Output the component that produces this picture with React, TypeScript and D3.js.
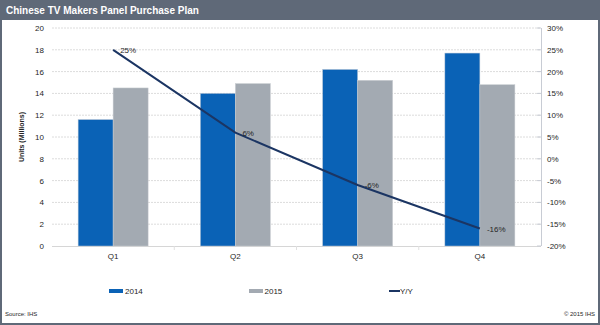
import React from "react";
import * as d3 from "d3";

const categories = ["Q1", "Q2", "Q3", "Q4"];
const units2014 = [11.6, 14.0, 16.2, 17.7];
const units2015 = [14.5, 14.9, 15.2, 14.8];
const yoy = [25, 6, -6, -16];
const leftTicks = [0, 2, 4, 6, 8, 10, 12, 14, 16, 18, 20];
const rightTicks = [-20, -15, -10, -5, 0, 5, 10, 15, 20, 25, 30];

const W = 600, H = 325;
const FONT = "Arial, 'Liberation Sans', sans-serif";
const C2014 = "#0a62b6";
const C2015 = "#a3aab2";
const CLINE = "#1b3563";
const TXT = "#262626";

export default function App() {
  const left = 52, right = 541, top = 28, bottom = 246;
  const x = d3.scaleBand().domain(categories).range([left, right]);
  const yL = d3.scaleLinear().domain([0, 20]).range([bottom, top]);
  const yR = d3.scaleLinear().domain([-20, 30]).range([bottom, top]);
  const barW = 35;
  const line = d3.line<number>()
    .x((_, i) => (x(categories[i]) as number) + x.bandwidth() / 2)
    .y((d) => yR(d));

  return (
    <div style={{ position: "fixed", left: 0, top: 0, width: W, height: H }}>
      <svg width={W} height={H} style={{ display: "block", fontFamily: FONT }}>
        <rect x={0} y={0} width={W} height={H} fill="#ffffff" />
        <rect x={1} y={1} width={W - 2} height={H - 2} fill="none" stroke="#5f6978" strokeWidth={2} />
        <rect x={0} y={0} width={W} height={20} fill="#5f6978" />
        <text x={6} y={14} fill="#ffffff" fontSize={10} fontWeight="bold">
          Chinese TV Makers Panel Purchase Plan
        </text>

        {leftTicks.map((t) => (
          <g key={"g" + t}>
            {t > 0 && (
              <line x1={left} x2={right} y1={yL(t)} y2={yL(t)} stroke="#dcdcdc" strokeWidth={1} strokeDasharray="2,1" />
            )}
            <text x={44} y={yL(t) + 3} textAnchor="end" fontSize={8} fill={TXT}>{t}</text>
          </g>
        ))}
        <line x1={left} x2={right} y1={bottom + 0.5} y2={bottom + 0.5} stroke="#d6d6d6" />

        {categories.map((c, i) => {
          const cx = (x(c) as number) + x.bandwidth() / 2;
          return (
            <g key={c}>
              <rect x={cx - barW} y={yL(units2014[i])} width={barW} height={bottom - yL(units2014[i])} fill={C2014} stroke="#b9c6d6" strokeWidth={0.5} />
              <rect x={cx} y={yL(units2015[i])} width={barW} height={bottom - yL(units2015[i])} fill={C2015} stroke="#c9cdd2" strokeWidth={0.5} />
              <text x={cx} y={259} textAnchor="middle" fontSize={8} fill={TXT}>{c}</text>
            </g>
          );
        })}
        {categories.slice(1).map((c) => (
          <line key={"t" + c} x1={x(c) as number} x2={x(c) as number} y1={bottom} y2={bottom + 4} stroke="#e0e0e0" />
        ))}

        <line x1={right + 0.5} x2={right + 0.5} y1={top} y2={bottom} stroke="#c8ccd4" strokeWidth={1} />
        {rightTicks.map((t) => (
          <g key={"r" + t}>
            <line x1={right} x2={right - 4} y1={yR(t)} y2={yR(t)} stroke="#c8ccd4" />
            <text x={547} y={yR(t) + 3} fontSize={8} fill={TXT}>{t + "%"}</text>
          </g>
        ))}

        <path d={line(yoy) || ""} fill="none" stroke={CLINE} strokeWidth={2} />
        {yoy.map((v, i) => (
          <text key={"l" + i} x={(x(categories[i]) as number) + x.bandwidth() / 2 + 7} y={yR(v) + 3} fontSize={8} fill={TXT}>
            {v + "%"}
          </text>
        ))}

        <text x={0} y={0} transform={`translate(23.5,${(top + bottom) / 2}) rotate(-90)`} textAnchor="middle" fontSize={7} fontWeight="bold" fill={TXT}>
          Units (Millions)
        </text>

        <rect x={109} y={289} width={14} height={4} fill={C2014} />
        <text x={125} y={294} fontSize={8} fill={TXT}>2014</text>
        <rect x={249} y={289} width={14} height={4} fill={C2015} />
        <text x={264.5} y={294} fontSize={8} fill={TXT}>2015</text>
        <line x1={389} x2={400} y1={291} y2={291} stroke={CLINE} strokeWidth={2} />
        <text x={400} y={294} fontSize={8} fill={TXT}>Y/Y</text>

        <text x={5} y={316} fontSize={6} fill={TXT}>Source: IHS</text>
        <text x={595} y={316} fontSize={6} fill={TXT} textAnchor="end">© 2015 IHS</text>
      </svg>
    </div>
  );
}
